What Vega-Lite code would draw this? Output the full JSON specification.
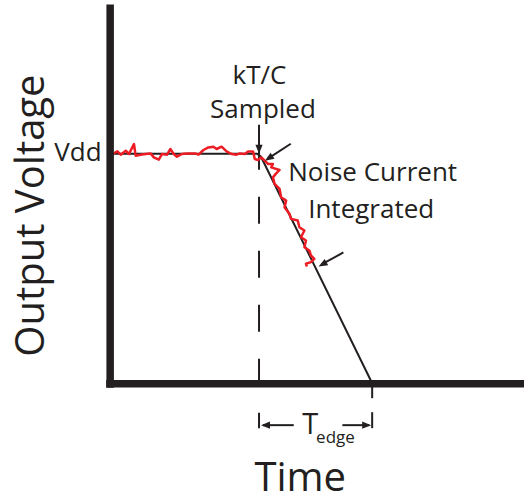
{
  "$schema": "https://vega.github.io/schema/vega-lite/v6.json",
  "width": 528,
  "height": 502,
  "padding": 0,
  "autosize": {"type": "fit", "contains": "padding"},
  "config": {"view": {"stroke": null}},
  "datasets": {
    "axes": [
      {"t": 0, "v": 380, "t2": 0, "v2": -4},
      {"t": -4, "v": 0, "t2": 417, "v2": 0}
    ],
    "ideal": [
      {"i": 0, "t": 2, "v": 230.5},
      {"i": 1, "t": 148, "v": 230.5},
      {"i": 2, "t": 152, "v": 227.5},
      {"i": 3, "t": 265, "v": -1.5}
    ],
    "noisy": [
      {"i": 0, "t": 2.3, "v": 230.2}, {"i": 1, "t": 7.3, "v": 232.8}, {"i": 2, "t": 10.7, "v": 229.5},
      {"i": 3, "t": 15.7, "v": 233.5}, {"i": 4, "t": 19, "v": 230.2}, {"i": 5, "t": 22.3, "v": 236.8},
      {"i": 6, "t": 24, "v": 240.2}, {"i": 7, "t": 25.7, "v": 228.5}, {"i": 8, "t": 30.7, "v": 229.5},
      {"i": 9, "t": 35.7, "v": 230.2}, {"i": 10, "t": 40.7, "v": 230.8}, {"i": 11, "t": 44, "v": 226.8},
      {"i": 12, "t": 49, "v": 224.5}, {"i": 13, "t": 52.3, "v": 230.2}, {"i": 14, "t": 57.3, "v": 229.5},
      {"i": 15, "t": 60.7, "v": 235.2}, {"i": 16, "t": 64, "v": 230.2}, {"i": 17, "t": 67.3, "v": 227.5},
      {"i": 18, "t": 72.3, "v": 230.2}, {"i": 19, "t": 77.3, "v": 230.8}, {"i": 20, "t": 85.7, "v": 230.8},
      {"i": 21, "t": 89, "v": 229.5}, {"i": 22, "t": 94, "v": 234.2}, {"i": 23, "t": 99, "v": 236.8},
      {"i": 24, "t": 104, "v": 237.5}, {"i": 25, "t": 107.3, "v": 235.2}, {"i": 26, "t": 112.3, "v": 237.5},
      {"i": 27, "t": 117.3, "v": 232.8}, {"i": 28, "t": 122.3, "v": 230.2}, {"i": 29, "t": 127.3, "v": 229.5},
      {"i": 30, "t": 130.7, "v": 230.8}, {"i": 31, "t": 135.7, "v": 230.2}, {"i": 32, "t": 139, "v": 232.8},
      {"i": 33, "t": 144, "v": 232.8}, {"i": 34, "t": 145.7, "v": 225.2}, {"i": 35, "t": 149, "v": 224.2},
      {"i": 36, "t": 152.3, "v": 226.8}, {"i": 37, "t": 155.7, "v": 223.5}, {"i": 38, "t": 159, "v": 220.2},
      {"i": 39, "t": 164, "v": 220.2}, {"i": 40, "t": 162.3, "v": 216.8}, {"i": 41, "t": 170.7, "v": 214.2},
      {"i": 42, "t": 167.3, "v": 210.8}, {"i": 43, "t": 164, "v": 206.8}, {"i": 44, "t": 165.7, "v": 200.2},
      {"i": 45, "t": 170.7, "v": 195.2}, {"i": 46, "t": 172.3, "v": 186.8}, {"i": 47, "t": 177.3, "v": 183.5},
      {"i": 48, "t": 175.7, "v": 176.8}, {"i": 49, "t": 180.7, "v": 170.2}, {"i": 50, "t": 182.3, "v": 165.2},
      {"i": 51, "t": 189, "v": 163.5}, {"i": 52, "t": 190.7, "v": 156.8}, {"i": 53, "t": 195.7, "v": 153.5},
      {"i": 54, "t": 192.3, "v": 146.8}, {"i": 55, "t": 197.3, "v": 143.5}, {"i": 56, "t": 195.7, "v": 136.8},
      {"i": 57, "t": 200.7, "v": 133.5}, {"i": 58, "t": 202.3, "v": 128.5}, {"i": 59, "t": 205.7, "v": 125.2},
      {"i": 60, "t": 202.3, "v": 121.8}, {"i": 61, "t": 197.3, "v": 120.2}, {"i": 62, "t": 198.3, "v": 117.5}
    ],
    "shafts": [
      {"t": 150, "v": 259.5, "t2": 150, "v2": 233.5},
      {"t": 182, "v": 240.5, "t2": 159, "v2": 225.5},
      {"t": 235, "v": 131.5, "t2": 213, "v2": 119.5},
      {"t": 154, "v": -41.5, "t2": 185, "v2": -41.5},
      {"t": 234, "v": -41.5, "t2": 261, "v2": -41.5},
      {"t": 264, "v": 0.5, "t2": 264, "v2": -14.5},
      {"t": 264, "v": -28.5, "t2": 264, "v2": -44.5}
    ],
    "marker": [
      {"t": 150, "v": 241.5, "t2": 150, "v2": -44.5}
    ],
    "heads": [
      {"t": 150, "v": 230.5, "deg": 180},
      {"t": 156, "v": 223.5, "deg": 237},
      {"t": 210, "v": 117.5, "deg": 241},
      {"t": 152, "v": -41.5, "deg": 270},
      {"t": 263, "v": -41.5, "deg": 90}
    ],
    "notes": [
      {"t": 150.5, "v": 300.5, "label": "kT/C"},
      {"t": 154, "v": 266.5, "label": "Sampled"},
      {"t": 264.5, "v": 203.5, "label": "Noise Current"},
      {"t": 263, "v": 166.5, "label": "Integrated"},
      {"t": -32.5, "v": 223.5, "label": "Vdd"}
    ],
    "xtitle": [{"t": 191.5, "v": -107.5, "label": "Time"}],
    "ytitle": [{"t": -67, "v": 168.5, "label": "Output Voltage"}],
    "tmain": [{"t": 201.5, "v": -50.5, "label": "T"}],
    "tsub": [{"t": 227, "v": -59.5, "label": "edge"}]
  },
  "encoding": {
    "x": {"field": "t", "type": "quantitative", "axis": null, "scale": {"domain": [-111, 417], "nice": false, "zero": false}},
    "y": {"field": "v", "type": "quantitative", "axis": null, "scale": {"domain": [-118.5, 383.5], "nice": false, "zero": false}}
  },
  "layer": [
    {
      "data": {"name": "marker"},
      "mark": {"type": "rule", "color": "#231f20", "strokeWidth": 2, "strokeDash": [27, 27]},
      "encoding": {"x2": {"field": "t2"}, "y2": {"field": "v2"}}
    },
    {
      "data": {"name": "ideal"},
      "mark": {"type": "line", "color": "#231f20", "strokeWidth": 2},
      "encoding": {"order": {"field": "i", "type": "quantitative"}}
    },
    {
      "data": {"name": "noisy"},
      "mark": {"type": "line", "color": "#ed1c24", "strokeWidth": 2.5, "strokeJoin": "round"},
      "encoding": {"order": {"field": "i", "type": "quantitative"}}
    },
    {
      "data": {"name": "shafts"},
      "mark": {"type": "rule", "color": "#231f20", "strokeWidth": 2},
      "encoding": {"x2": {"field": "t2"}, "y2": {"field": "v2"}}
    },
    {
      "data": {"name": "heads"},
      "mark": {"type": "point", "filled": true, "color": "#231f20", "opacity": 1, "strokeWidth": 0, "shape": "M0,0L0.4,1L-0.4,1Z", "size": 324},
      "encoding": {"angle": {"field": "deg", "type": "quantitative", "scale": null}}
    },
    {
      "data": {"name": "axes"},
      "mark": {"type": "rule", "color": "#231f20", "strokeWidth": 7.5, "strokeCap": "butt"},
      "encoding": {"x2": {"field": "t2"}, "y2": {"field": "v2"}}
    },
    {
      "data": {"name": "notes"},
      "mark": {"type": "text", "font": "Open Sans", "fontSize": 26, "color": "#231f20", "align": "center", "baseline": "alphabetic"},
      "encoding": {"text": {"field": "label"}}
    },
    {
      "data": {"name": "xtitle"},
      "mark": {"type": "text", "font": "Open Sans", "fontSize": 40, "color": "#231f20", "align": "center", "baseline": "alphabetic"},
      "encoding": {"text": {"field": "label"}}
    },
    {
      "data": {"name": "ytitle"},
      "mark": {"type": "text", "font": "Open Sans", "fontSize": 40, "color": "#231f20", "align": "center", "baseline": "alphabetic", "angle": 270},
      "encoding": {"text": {"field": "label"}}
    },
    {
      "data": {"name": "tmain"},
      "mark": {"type": "text", "font": "Open Sans", "fontSize": 29, "color": "#231f20", "align": "center", "baseline": "alphabetic"},
      "encoding": {"text": {"field": "label"}}
    },
    {
      "data": {"name": "tsub"},
      "mark": {"type": "text", "font": "Open Sans", "fontSize": 17, "color": "#231f20", "align": "center", "baseline": "alphabetic"},
      "encoding": {"text": {"field": "label"}}
    }
  ]
}
